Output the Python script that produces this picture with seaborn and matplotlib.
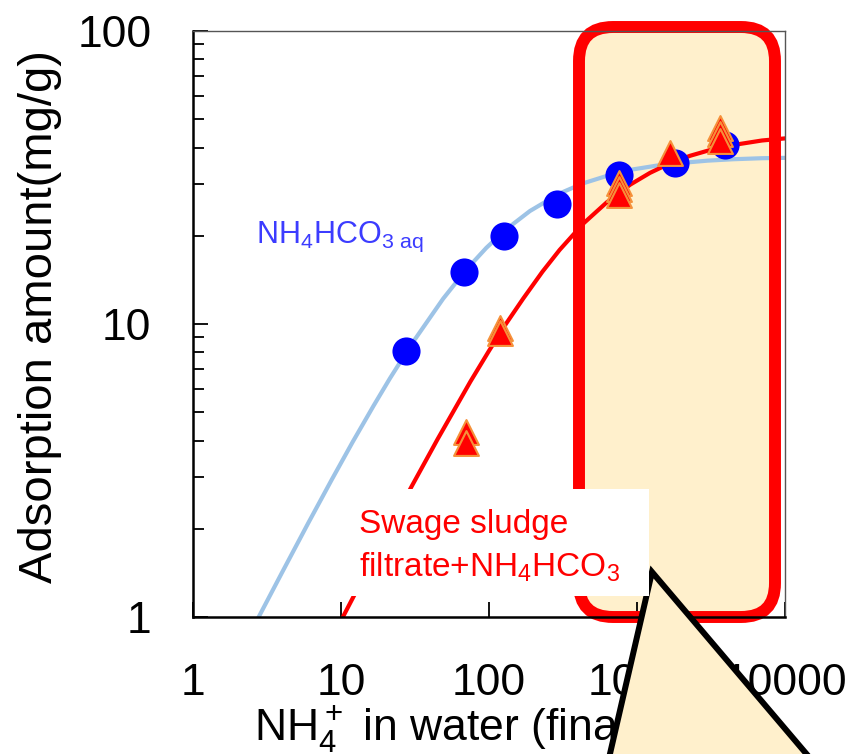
import matplotlib
matplotlib.use("Agg")
import matplotlib.pyplot as plt
import matplotlib.ticker as mticker
from matplotlib.patches import FancyBboxPatch, Polygon, Rectangle
import seaborn as sns
import pandas as pd

# measured points, NH4HCO3 aq (blue circles)
aq_x = [27.5, 68, 126, 287, 759, 1806, 3935]
aq_y = [8.1, 15.0, 20.0, 25.7, 32.3, 35.5, 40.8]

# sewage sludge filtrate + NH4HCO3 (red triangles, replicate copies)
sl_x = [70, 70, 119, 119, 760, 760, 760, 1670, 3640, 3640, 3640]
sl_y = [4.28, 3.92, 9.7, 9.3, 30.3, 28.9, 27.6, 38.2, 46.7, 44.5, 42.2]

# fitted curves
aq_fit_x = [2.75, 4, 6, 8.65, 12, 16.6, 21.4, 30, 49, 70, 96, 130, 189,
            300, 432, 700, 939, 1500, 2046, 3000, 4453, 7000, 10000]
aq_fit_y = [0.99, 1.42, 2.09, 2.94, 3.96, 5.26, 6.52, 8.54, 12.2, 15.3,
            18.2, 21.0, 24.3, 27.9, 30.2, 32.6, 33.7, 35.0, 35.5, 36.1,
            36.5, 36.8, 36.9]
sl_fit_x = [10.3, 15, 20, 30, 45, 75, 100, 130, 170, 230, 300, 433, 624,
            900, 1225, 1700, 2281, 3200, 4718, 7000, 10000]
sl_fit_y = [1.0, 1.44, 1.9, 2.79, 4.05, 6.37, 8.1, 10.0, 12.2, 15.1, 17.9,
            22.0, 26.0, 29.9, 32.8, 35.5, 37.5, 39.4, 41.0, 42.3, 43.0]

xticks = [1, 10, 100, 1000, 10000]
xtick_labels = ["1", "10", "100", "1000", "10000"]
yticks = [1, 10, 100]
ytick_labels = ["1", "10", "100"]

BEIGE = "#FFF0CC"

sns.set_style("ticks")
plt.rcParams['font.family'] = ['Liberation Sans', 'DejaVu Sans']
plt.rcParams['mathtext.default'] = 'regular'
for key in ['text.color', 'axes.labelcolor', 'xtick.color', 'ytick.color']:
    plt.rcParams[key] = 'black'

fig = plt.figure(figsize=(8.52, 7.54), dpi=100)
ax = fig.add_axes([193 / 852, 137 / 754, 592 / 852, 586 / 754])
ax.set_xscale("log")
ax.set_yscale("log")
ax.set_xlim(1, 10000)
ax.set_ylim(1, 100)

# highlight box behind the data, stroke above the curves
hl_fill = FancyBboxPatch((5.79, 1.37), 1.96, 5.90,
                         boxstyle="round,pad=0,rounding_size=0.34",
                         transform=fig.dpi_scale_trans, facecolor=BEIGE,
                         edgecolor="none", zorder=0.5, clip_on=False)
ax.add_patch(hl_fill)
hl_edge = FancyBboxPatch((5.79, 1.37), 1.96, 5.90,
                         boxstyle="round,pad=0,rounding_size=0.34",
                         transform=fig.dpi_scale_trans, facecolor="none",
                         edgecolor="#FF0000", linewidth=8.6, zorder=2.2,
                         clip_on=False)
ax.add_patch(hl_edge)

aq_fit = pd.DataFrame({"x": aq_fit_x, "y": aq_fit_y})
sl_fit = pd.DataFrame({"x": sl_fit_x, "y": sl_fit_y})
sns.lineplot(data=aq_fit, x="x", y="y", ax=ax, color="#9DC3E6", lw=3,
             estimator=None, sort=False, zorder=2)
sns.lineplot(data=sl_fit, x="x", y="y", ax=ax, color="#FF0000", lw=3,
             estimator=None, sort=False, zorder=2)

aq = pd.DataFrame({"x": aq_x, "y": aq_y})
sl = pd.DataFrame({"x": sl_x, "y": sl_y})
sns.scatterplot(data=aq, x="x", y="y", ax=ax, color="#0000FF", s=410,
                marker="o", linewidth=0, zorder=3)
sns.scatterplot(data=sl, x="x", y="y", ax=ax, color="#FF0000", s=320,
                marker="^", edgecolor="#F5913A", linewidth=1.5, zorder=4)

ax.set_xticks(xticks, labels=xtick_labels)
ax.set_yticks(yticks, labels=ytick_labels)
ax.xaxis.set_minor_formatter(mticker.NullFormatter())
ax.yaxis.set_minor_formatter(mticker.NullFormatter())
ax.tick_params(which="both", direction="in", top=False, right=False,
               width=1.3, color="black")
ax.tick_params(which="major", length=11, labelsize=32)
ax.tick_params(axis="x", which="major", pad=33)
ax.tick_params(axis="y", which="major", pad=30)
ax.tick_params(which="minor", length=8)

for side in ["left", "bottom"]:
    ax.spines[side].set_linewidth(1.8)
    ax.spines[side].set_color("black")
for side in ["top", "right"]:
    ax.spines[side].set_linewidth(1.0)
    ax.spines[side].set_color("#555555")

ax.set_xlabel(r"NH$_4^+$ in water (final, mg/L)", fontsize=32, va="center")
ax.xaxis.set_label_coords(0.535, -0.19)
ax.set_ylabel("Adsorption amount(mg/g)", fontsize=34, va="center")
ax.yaxis.set_label_coords(-0.258, 0.512)

ax.text(2.67, 18.9, r"$\mathregular{NH_4HCO_{3\ aq}}$", color="#3C3CFF",
        fontsize=22, va="baseline", ha="left", zorder=5)

# callout pointer and label box on top of everything
pointer = Polygon([(6.52, 1.82), (6.03, -0.3), (8.32, -0.3)], closed=True,
                  transform=fig.dpi_scale_trans, facecolor=BEIGE,
                  edgecolor="black", linewidth=4.3, joinstyle="miter",
                  zorder=4)
fig.patches.append(pointer)
label_box = Rectangle((345 / 852, 158 / 754), 304 / 852, 107 / 754,
                      transform=fig.transFigure, facecolor="white",
                      edgecolor="none", zorder=5)
fig.patches.append(label_box)
fig.text(359 / 852, 221 / 754, "Swage sludge", color="#FF0000",
         fontsize=24, va="baseline", ha="left", zorder=6)
fig.text(359 / 852, 177 / 754, r"filtrate+$\mathregular{NH_4HCO_3}$",
         color="#FF0000", fontsize=24, va="baseline", ha="left", zorder=6)

fig.savefig("out.png", dpi=100)
